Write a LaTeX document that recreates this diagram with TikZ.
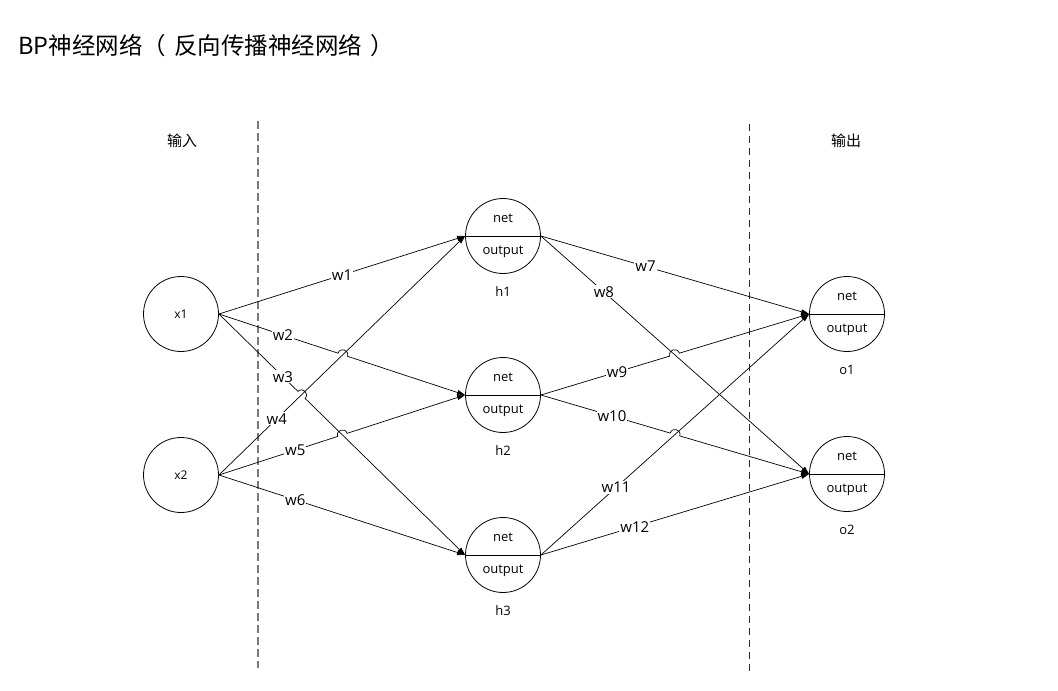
\documentclass[tikz,border=0pt]{standalone}
\usepackage{fontspec}
\setmainfont{Open Sans}
\newfontfamily\cjk{Noto Sans CJK SC}
\usepackage{tikz}
\usetikzlibrary{positioning,arrows.meta,calc}
\definecolor{dashgray}{HTML}{7A7A7A}
\definecolor{dashdk}{HTML}{2A2A2A}
% edge with a small hop where it passes over another edge
\newcommand{\hopedge}[6]{%
  \coordinate (hc) at (intersection of #1--#2 and #3--#4);
  \coordinate (ha) at ($(hc)!5pt!(#1)$);
  \coordinate (hb) at ($(hc)!5pt!(#2)$);
  \draw[edge] (#1) -- (ha) .. controls ($(ha)!0.667!90:(hb)$) and ($(hb)!0.667!-90:(ha)$) .. (hb) -- (#2);
  \node[wlbl] (#5) at ($(#1)!#6!(#2)$) {#5};
}

\begin{document}
\begin{tikzpicture}[
  x=1pt,y=-1pt,
  font=\fontsize{13}{15}\selectfont,
  unit/.style={circle,draw,line width=0.8pt,minimum size=75pt,inner sep=0pt},
  inunit/.style={unit,font=\fontsize{12}{14}\selectfont},
  part/.style={inner sep=0pt},
  tag/.style={inner sep=1pt},
  wlbl/.style={fill=white,inner sep=1pt,font=\fontsize{15}{17}\selectfont},
  head/.style={font=\cjk\fontsize{15}{17}\selectfont},
  edge/.style={-{Triangle[length=8pt,width=5pt]},line width=0.7pt},
  sepl/.style={dash pattern=on 8pt off 4pt,line width=1.6pt,draw=dashgray},
  sepr/.style={dash pattern=on 7pt off 5pt,line width=1pt,draw=dashdk}
]
\useasboundingbox (0,0) rectangle (1058,691);

\node[anchor=west,font=\cjk\fontsize{23.5}{26}\selectfont] (title) at (15,46) {BP神经网络（\hspace{8pt}反向传播神经网络\hspace{8pt}）};

% layer separators
\coordinate (s1top) at (258,121);
\coordinate (s1bot) at (258,668);
\coordinate (s2top) at (749,124);
\coordinate (s2bot) at (749,672);
\draw[sepl] (s1top) -- (s1bot);
\draw[sepr] (s2top) -- (s2bot);

\node[head] (inhead) at (182,141) {输入};
\node[head] (outhead) at (846,141) {输出};

% input units
\node[inunit] (x1) at (181,314) {x1};
\node[inunit] (x2) at (181,475) {x2};

% hidden and output units
\foreach \n/\x/\y in {h1/503/236,h2/503/395,h3/503/555,o1/847/314,o2/847/474} {
  \node[unit] (\n) at (\x,\y) {};
  \draw[line width=0.8pt] (\n.west) -- (\n.east);
  \node[part] (\n-net) at ([yshift=18pt]\n.center) {net};
  \node[part] (\n-out) at ([yshift=-16pt]\n.center) {output};
  \node[tag] (\n-tag) at ([yshift=-56pt]\n.center) {\n};
}

% input -> hidden
\draw[edge] (x1.east) -- node[wlbl,pos=0.5] (w1) {w1} (h1.west);
\draw[edge] (x2.east) -- node[wlbl,pos=0.235] (w4) {w4} (h1.west);
\draw[edge] (x2.east) -- node[wlbl,pos=0.31] (w6) {w6} (h3.west);
\hopedge{x1.east}{h2.west}{x2.east}{h1.west}{w2}{0.26}
\hopedge{x1.east}{h3.west}{x2.east}{h1.west}{w3}{0.26}
\hopedge{x2.east}{h2.west}{x1.east}{h3.west}{w5}{0.31}

% hidden -> output
\draw[edge] (h1.east) -- node[wlbl,pos=0.39] (w7) {w7} (o1.west);
\draw[edge] (h1.east) -- node[wlbl,pos=0.235] (w8) {w8} (o2.west);
\draw[edge] (h3.east) -- node[wlbl,pos=0.28] (w11) {w11} (o1.west);
\draw[edge] (h3.east) -- node[wlbl,pos=0.35] (w12) {w12} (o2.west);
\hopedge{h2.east}{o1.west}{h1.east}{o2.west}{w9}{0.284}
\hopedge{h2.east}{o2.west}{h3.east}{o1.west}{w10}{0.265}
\end{tikzpicture}
\end{document}
